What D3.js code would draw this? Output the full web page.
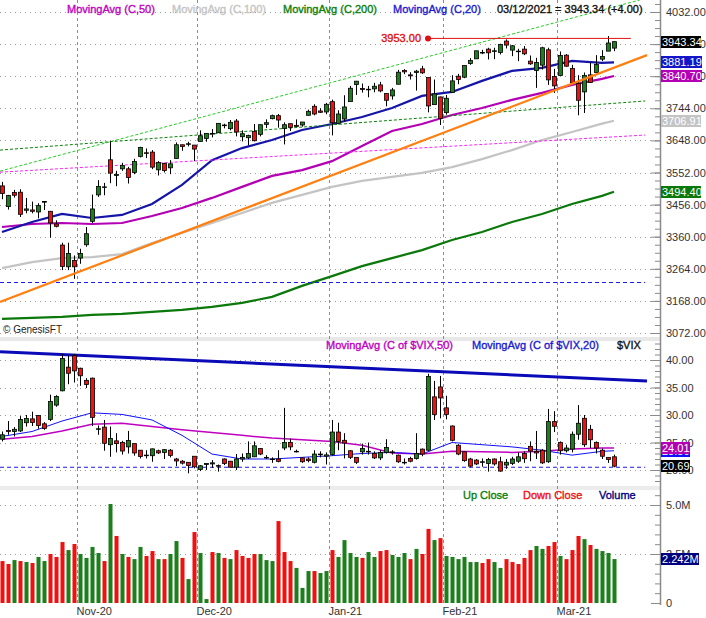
<!DOCTYPE html>
<html>
<head>
<meta charset="utf-8">
<script src="https://cdn.jsdelivr.net/npm/d3@7"></script>
<style>
  body { margin: 0; background: #fff; }
  svg { display: block; }
</style>
</head>
<body>
<div id="chart"></div>
<script>
// trading days shown on the chart (Oct 14 2020 .. Mar 12 2021)
const tradingDays = (
  "2020-10-14 2020-10-15 2020-10-16 2020-10-19 2020-10-20 2020-10-21 2020-10-22 2020-10-23 2020-10-26 2020-10-27 2020-10-28 2020-10-29 2020-10-30 " +
  "2020-11-02 2020-11-03 2020-11-04 2020-11-05 2020-11-06 2020-11-09 2020-11-10 2020-11-11 2020-11-12 2020-11-13 2020-11-16 2020-11-17 2020-11-18 2020-11-19 2020-11-20 2020-11-23 2020-11-24 2020-11-25 2020-11-27 2020-11-30 " +
  "2020-12-01 2020-12-02 2020-12-03 2020-12-04 2020-12-07 2020-12-08 2020-12-09 2020-12-10 2020-12-11 2020-12-14 2020-12-15 2020-12-16 2020-12-17 2020-12-18 2020-12-21 2020-12-22 2020-12-23 2020-12-24 2020-12-28 2020-12-29 2020-12-30 2020-12-31 " +
  "2021-01-04 2021-01-05 2021-01-06 2021-01-07 2021-01-08 2021-01-11 2021-01-12 2021-01-13 2021-01-14 2021-01-15 2021-01-19 2021-01-20 2021-01-21 2021-01-22 2021-01-25 2021-01-26 2021-01-27 2021-01-28 2021-01-29 " +
  "2021-02-01 2021-02-02 2021-02-03 2021-02-04 2021-02-05 2021-02-08 2021-02-09 2021-02-10 2021-02-11 2021-02-12 2021-02-16 2021-02-17 2021-02-18 2021-02-19 2021-02-22 2021-02-23 2021-02-24 2021-02-25 2021-02-26 " +
  "2021-03-01 2021-03-02 2021-03-03 2021-03-04 2021-03-05 2021-03-08 2021-03-09 2021-03-10 2021-03-11 2021-03-12"
).split(" ");

const monthStarts = ["2020-11-02", "2020-12-01", "2021-01-04", "2021-02-01", "2021-03-01"];
const monthLabels = ["Nov-20", "Dec-20", "Jan-21", "Feb-21", "Mar-21"];

// $SPX candles
const spxOpen = [3512,3450,3492,3493,3439,3440,3434,3464,3436,3398,
  3335,3270,3289,3296,3336,3406,3485,3508,3590,3543,
  3563,3563,3552,3600,3611,3613,3560,3579,3566,3594,
  3635,3638,3634,3645,3654,3669,3671,3694,3683,3706,
  3659,3656,3675,3666,3696,3713,3722,3684,3698,3693,
  3694,3723,3750,3736,3733,3764,3699,3712,3764,3815,
  3803,3801,3802,3814,3788,3781,3816,3857,3844,3851,
  3862,3836,3755,3778,3731,3791,3840,3837,3878,3892,
  3910,3921,3916,3911,3945,3918,3915,3921,3885,3857,
  3873,3919,3839,3842,3903,3863,3818,3793,3844,3851,
  3891,3915,3924];
const spxHigh = [3524,3485,3500,3502,3476,3465,3460,3466,3437,3409,
  3342,3342,3304,3324,3389,3486,3529,3521,3645,3557,
  3581,3569,3593,3629,3624,3619,3586,3581,3589,3642,
  3635,3644,3634,3678,3670,3682,3699,3698,3709,3712,
  3678,3665,3697,3695,3711,3725,3727,3702,3698,3711,
  3703,3740,3756,3744,3760,3770,3738,3783,3811,3826,
  3818,3811,3820,3823,3789,3805,3859,3861,3852,3859,
  3871,3836,3830,3779,3784,3843,3847,3872,3894,3915,
  3919,3925,3925,3937,3950,3933,3922,3930,3902,3895,
  3928,3925,3862,3914,3906,3874,3843,3851,3881,3903,
  3918,3960,3944];
const spxLow = [3472,3441,3477,3419,3430,3430,3415,3440,3357,3388,
  3260,3260,3234,3279,3330,3401,3479,3484,3520,3511,
  3557,3519,3547,3597,3595,3562,3543,3552,3547,3594,
  3617,3630,3586,3645,3644,3657,3671,3684,3678,3660,
  3645,3633,3645,3660,3685,3711,3686,3636,3676,3689,
  3689,3723,3723,3730,3726,3663,3696,3705,3764,3784,
  3791,3777,3792,3792,3750,3770,3816,3846,3830,3797,
  3847,3732,3755,3694,3725,3791,3816,3834,3874,3892,
  3906,3890,3891,3905,3923,3900,3885,3903,3874,3805,
  3860,3814,3790,3842,3868,3818,3723,3730,3820,3851,
  3885,3915,3915];
const spxClose = [3489,3483,3484,3427,3443,3436,3453,3465,3401,3391,
  3271,3310,3270,3310,3369,3443,3510,3509,3550,3546,
  3573,3537,3585,3627,3610,3568,3582,3558,3578,3635,
  3630,3638,3622,3662,3669,3667,3699,3692,3702,3673,
  3668,3663,3647,3695,3701,3722,3709,3695,3687,3690,
  3703,3735,3727,3732,3756,3701,3727,3748,3804,3825,
  3800,3801,3810,3796,3768,3799,3852,3853,3841,3855,
  3850,3751,3787,3714,3774,3826,3830,3872,3887,3916,
  3911,3910,3916,3935,3933,3931,3914,3907,3877,3881,
  3925,3829,3811,3902,3870,3820,3768,3842,3821,3875,
  3899,3939.34,3943.34];
const spxPriorClose = 3512; // Oct 13 close, colours the first volume bar

// moving averages every 5 sessions
const maIdx = [0,5,10,15,20,25,30,35,40,45,50,55,60,65,70,75,80,85,90,95,100,102];
const ma20 = [3374,3404,3428,3416,3425,3458,3515,3589,3625,3649,3679,3697,3718,3745,3781,3793,3826,3856,3865,3886,3880,3881.19];
const ma50 = [3389,3398,3401,3398,3401,3422,3446,3476,3509,3542,3559,3586,3631,3676,3697,3724,3745,3769,3790,3814,3832,3840.70];
const ma100 = [3266,3284,3296,3299,3308,3341,3371,3401,3431,3461,3485,3509,3527,3539,3551,3568,3592,3619,3649,3673,3698,3706.91];
const ma200 = [3114,3117,3120,3126,3129,3135,3141,3150,3162,3180,3213,3242,3272,3296,3320,3350,3374,3404,3428,3458,3482,3494.40];

// hand drawn lines: [session index, value] end points
const orangeTrend = [[-0.33, 3165], [107.5, 3903]];
const upperChannel = [[-0.33, 3556], [106.3, 4068]];
const midChannel = [[-0.33, 3619], [107.2, 3766]];
const magentaLine = [[-0.33, 3553], [107.2, 3664]];
const supportLine = [[-0.33, 3223], [107.2, 3223]];
const resistance = [[71, 3953], [104.8, 3953]];
const priceTicks = [3072, 3168, 3264, 3360, 3456, 3552, 3648, 3744, 3840, 3936, 4032];

// $VIX candles
const vixOpen = [25.6,27.2,27.0,27.1,28.6,29.3,29.9,28.4,29.2,31.8,
  34.4,38.7,40.8,38.5,36.3,36.7,27.4,27.8,24.6,25.3,
  25.0,24.2,24.8,23.6,22.6,22.6,23.5,23.2,23.6,22.0,
  21.6,21.4,22.5,20.1,21.0,21.1,20.8,22.0,21.6,20.5,
  22.0,22.2,22.4,23.9,22.3,22.0,22.0,24.0,25.0,23.4,
  22.2,22.0,21.4,22.9,22.5,22.8,26.9,25.4,23.5,22.3,
  23.3,23.4,23.0,22.2,23.2,23.3,22.7,21.4,22.1,22.1,
  23.8,23.6,33.3,35.1,31.3,28.0,24.5,23.3,22.0,21.8,
  21.4,21.2,22.0,21.5,20.9,21.2,21.6,23.0,24.3,23.4,
  23.6,21.5,28.8,25.0,23.5,23.8,26.5,29.4,27.4,25.0,
  23.6,22.3,22.4];
const vixHigh = [27.0,28.9,27.8,29.8,30.0,30.6,30.0,28.7,33.7,33.6,
  41.1,40.8,41.1,38.6,36.7,36.8,28.1,29.1,27.9,26.7,
  25.3,27.1,24.8,23.6,23.6,23.9,23.7,23.8,23.8,22.2,
  21.8,21.4,22.5,20.9,21.2,21.8,21.0,22.1,21.6,22.9,
  23.0,25.2,25.2,24.0,22.7,22.3,23.6,31.3,25.7,23.7,
  22.3,22.3,23.6,23.4,23.2,29.1,28.6,26.7,23.6,22.3,
  24.8,25.0,23.4,23.6,25.6,23.6,22.8,22.1,22.4,26.7,
  23.9,37.5,36.2,37.1,33.5,28.1,24.7,23.4,22.2,22.0,
  22.1,22.2,22.1,22.4,22.0,22.4,23.2,23.4,25.2,27.1,
  23.8,31.1,30.7,25.2,24.6,27.0,31.8,30.0,28.2,25.2,
  23.9,22.3,22.8];
const vixLow = [25.2,26.4,26.1,26.9,27.9,28.0,27.5,27.3,28.9,31.5,
  34.3,35.6,35.9,35.3,34.9,28.0,26.4,23.5,22.4,23.2,
  22.8,23.0,22.6,22.1,22.1,21.5,22.9,22.0,22.3,20.7,
  21.0,19.4,20.3,19.8,20.0,20.4,19.7,20.9,20.5,20.0,
  21.5,22.0,22.4,22.7,22.0,21.3,21.4,23.6,23.6,23.2,
  21.3,21.4,21.2,22.3,21.0,22.6,23.6,22.1,22.0,21.1,
  22.8,22.8,22.0,21.8,23.0,22.8,21.3,21.0,21.4,21.9,
  22.5,23.5,29.1,29.4,29.2,25.2,22.7,21.5,20.5,20.9,
  20.6,19.7,20.8,19.7,20.2,20.9,21.3,21.3,21.6,22.0,
  21.1,21.3,26.9,22.8,23.2,23.2,25.5,24.2,24.0,23.0,
  22.0,21.3,20.5];
const vixClose = [26.4,27.0,27.4,29.2,29.35,28.65,28.1,27.55,32.46,33.35,
  40.28,37.59,38.02,37.13,35.55,29.57,27.5,24.86,25.75,24.8,
  23.45,25.35,23.1,22.45,22.71,23.84,23.11,23.7,22.66,21.64,
  21.25,20.84,20.57,20.77,21.17,21.3,20.79,21.2,20.5,22.0,
  22.3,23.0,24.4,22.9,22.2,21.93,21.57,25.0,24.2,23.31,
  21.5,21.7,22.9,22.77,22.75,26.9,25.2,24.9,22.3,21.4,
  23.9,23.33,22.2,23.2,24.1,23.2,21.5,21.3,21.6,23.0,
  22.9,37.0,30.1,33.1,30.1,25.4,22.9,21.7,20.7,21.1,
  21.5,21.9,21.1,19.8,21.4,22.0,22.4,22.05,23.45,23.1,
  21.3,28.8,27.95,23.5,24.0,26.5,28.5,24.6,25.5,24.0,
  22.5,21.9,20.69];
const vixMa20 = [26.1,27.0,28.9,30.4,30.1,29.1,26.3,22.9,22.0,22.0,22.3,22.6,23.0,23.2,22.9,25.0,24.6,24.2,23.6,22.7,23.4,23.5];
const vixMa50 = [25.6,26.1,27.1,28.3,28.5,27.9,27.3,26.8,26.3,25.8,25.5,25.2,24.5,23.1,22.9,23.4,23.3,23.2,23.4,23.8,24.0,24.01];
const vixTrend = [[-0.33, 41.5], [107.5, 36.2]];
const vixSupport = [[-0.33, 20.5], [107.2, 20.5]];
const vixTicks = [20, 25, 30, 35, 40];

// volume, millions
const volume = [2.14,1.99,2.19,2.14,2.09,2.04,2.35,2.14,2.50,2.35,
  3.11,2.70,3.01,2.50,2.30,2.86,2.55,2.14,5.05,3.42,
  2.50,2.35,2.24,2.86,2.40,2.65,2.24,2.24,2.50,3.16,
  2.30,1.22,3.62,2.55,0.20,2.60,2.55,2.30,2.24,2.70,
  2.40,2.30,2.50,2.50,2.19,2.14,4.18,2.60,2.14,1.79,
  0.77,1.63,1.63,1.53,1.63,2.70,2.35,3.21,2.55,2.35,
  2.30,2.60,2.35,2.65,2.70,2.45,2.35,2.55,2.24,2.76,
  2.50,3.78,3.21,3.31,2.40,2.35,2.24,2.35,2.09,2.09,
  2.04,2.24,2.09,1.79,2.24,2.09,1.99,2.30,2.70,2.91,
  2.76,2.91,3.11,2.40,2.24,2.70,3.42,3.26,2.96,2.76,
  2.65,2.55,2.242];
const volTicks = [0, 2.5, 5];

const upCol = '#1b7f1b';
const downCol = '#f01010';
const font = 'Arial, "Liberation Sans", sans-serif';

function drawChart() {
  const plotRight = 660;
  const svg = d3.select('#chart').append('svg')
    .attr('width', 706).attr('height', 618)
    .style('font-family', font);

  const x = d3.scaleLinear().domain([0, tradingDays.length - 1]).range([2, 614]);
  const yPrice = d3.scaleLinear().domain([3072, 4032]).range([333, 12]);
  const yVix = d3.scaleLinear().domain([20, 40]).range([470, 360]);
  const yVol = d3.scaleLinear().domain([0, 5]).range([603, 505]);

  const panels = [
    { id: 'price', top: 0, bottom: 337 },
    { id: 'vix', top: 341, bottom: 487 },
    { id: 'vol', top: 490, bottom: 604 }
  ];

  const defs = svg.append('defs');
  panels.forEach(p => {
    defs.append('clipPath').attr('id', 'clip-' + p.id)
      .append('rect').attr('x', 0).attr('y', p.top)
      .attr('width', plotRight).attr('height', p.bottom - p.top);
  });

  // grey separators between panels
  svg.append('rect').attr('x', 0).attr('y', 337).attr('width', plotRight).attr('height', 4).attr('fill', '#e8e8e8');
  svg.append('rect').attr('x', 0).attr('y', 486).attr('width', plotRight).attr('height', 4).attr('fill', '#ececec');

  // dotted horizontal grid
  const hGrid = (ticks, yS, x2) => {
    svg.append('g').selectAll('line').data(ticks).join('line')
      .attr('x1', 0).attr('x2', x2)
      .attr('y1', d => Math.round(yS(d)) + 0.5).attr('y2', d => Math.round(yS(d)) + 0.5)
      .attr('stroke', '#9a9a9a').attr('stroke-dasharray', '1,4');
  };
  hGrid(priceTicks, yPrice, plotRight);
  hGrid(vixTicks, yVix, plotRight);
  hGrid([2.5, 5], yVol, plotRight);

  // dashed month lines
  const monthX = monthStarts.map(d => Math.round(x(tradingDays.indexOf(d) - 0.5)) + 0.5);
  svg.append('g').selectAll('line').data(monthX).join('line')
    .attr('x1', d => d).attr('x2', d => d)
    .attr('y1', 0).attr('y2', 606)
    .attr('stroke', '#8c8c8c').attr('stroke-dasharray', '3,3');

  const lineGen = yS => d3.line().x(d => x(d[0])).y(d => yS(d[1]));

  function candles(g, o, h, l, c, yS) {
    const data = tradingDays.map((d, i) => ({ i, o: o[i], h: h[i], l: l[i], c: c[i] }));
    g.selectAll('line.wick').data(data).join('line').attr('class', 'wick')
      .attr('x1', d => Math.round(x(d.i)) + 0.5).attr('x2', d => Math.round(x(d.i)) + 0.5)
      .attr('y1', d => yS(d.h)).attr('y2', d => yS(d.l))
      .attr('stroke', '#000').attr('stroke-width', 1);
    g.selectAll('rect.body').data(data).join('rect').attr('class', 'body')
      .attr('x', d => Math.round(x(d.i)) - 1.5)
      .attr('y', d => yS(Math.max(d.o, d.c)))
      .attr('width', 4)
      .attr('height', d => Math.max(0.6, Math.abs(yS(d.o) - yS(d.c))))
      .attr('fill', d => d.c >= d.o ? upCol : downCol)
      .attr('stroke', '#000').attr('stroke-width', 0.8);
  }

  // ---- price panel
  const gp = svg.append('g').attr('clip-path', 'url(#clip-price)');
  const maLines = [
    { v: ma200, col: '#0a780a' },
    { v: ma100, col: '#c4c4c4' },
    { v: ma50, col: '#b400b4' },
    { v: ma20, col: '#1414a8' }
  ];
  maLines.forEach(m => {
    gp.append('path').datum(d3.zip(maIdx, m.v))
      .attr('d', lineGen(yPrice)).attr('fill', 'none')
      .attr('stroke', m.col).attr('stroke-width', 2.2);
  });
  const dashed = [
    { v: upperChannel, col: '#22cc22', dash: '3,2' },
    { v: midChannel, col: '#0a800a', dash: '3,2' },
    { v: magentaLine, col: '#ff22ff', dash: '3,2' },
    { v: supportLine, col: '#1a1af0', dash: '4,3' }
  ];
  dashed.forEach(m => {
    gp.append('path').datum(m.v).attr('d', lineGen(yPrice)).attr('fill', 'none')
      .attr('stroke', m.col).attr('stroke-width', 1).attr('stroke-dasharray', m.dash);
  });
  candles(gp.append('g'), spxOpen, spxHigh, spxLow, spxClose, yPrice);
  gp.append('path').datum(orangeTrend).attr('d', lineGen(yPrice)).attr('fill', 'none')
    .attr('stroke', '#ff8010').attr('stroke-width', 2.2);
  gp.append('path').datum(resistance).attr('d', lineGen(yPrice)).attr('fill', 'none')
    .attr('stroke', '#e01010').attr('stroke-width', 1);
  gp.append('circle').attr('cx', x(resistance[0][0])).attr('cy', yPrice(resistance[0][1]))
    .attr('r', 3).attr('fill', '#e01010');
  gp.append('text').attr('x', x(resistance[0][0]) - 7).attr('y', yPrice(resistance[0][1]))
    .attr('dy', '0.35em').attr('text-anchor', 'end').attr('font-size', 11)
    .attr('fill', '#e01010').attr('stroke', '#e01010').attr('stroke-width', 0.35)
    .text(d3.format('.2f')(resistance[0][1]));

  svg.append('text').attr('x', 3).attr('y', 333).attr('font-size', 10).attr('fill', '#222')
    .text('\u00a9 GenesisFT');

  // ---- VIX panel
  const gv = svg.append('g').attr('clip-path', 'url(#clip-vix)');
  gv.append('path').datum(vixTrend).attr('d', lineGen(yVix)).attr('fill', 'none')
    .attr('stroke', '#0a0ab8').attr('stroke-width', 3);
  gv.append('path').datum(vixSupport).attr('d', lineGen(yVix)).attr('fill', 'none')
    .attr('stroke', '#1a1af0').attr('stroke-width', 1).attr('stroke-dasharray', '4,3');
  gv.append('path').datum(d3.zip(maIdx, vixMa50)).attr('d', lineGen(yVix)).attr('fill', 'none')
    .attr('stroke', '#c000c0').attr('stroke-width', 1.5);
  gv.append('path').datum(d3.zip(maIdx, vixMa20)).attr('d', lineGen(yVix)).attr('fill', 'none')
    .attr('stroke', '#1010ff').attr('stroke-width', 1);
  candles(gv.append('g'), vixOpen, vixHigh, vixLow, vixClose, yVix);

  // ---- volume panel
  const gvol = svg.append('g').attr('clip-path', 'url(#clip-vol)');
  gvol.selectAll('rect').data(volume).join('rect')
    .attr('x', (d, i) => Math.round(x(i)) - 1.5)
    .attr('y', d => yVol(d))
    .attr('width', 4)
    .attr('height', d => yVol(0) - yVol(d))
    .attr('fill', (d, i) => spxClose[i] >= (i ? spxClose[i - 1] : spxPriorClose) ? upCol : downCol);

  // ---- right axes
  svg.append('line').attr('x1', plotRight + 0.5).attr('x2', plotRight + 0.5)
    .attr('y1', 0).attr('y2', 605).attr('stroke', '#8a8a8a').attr('stroke-width', 1.5);

  function rightAxis(yS, major, minor, fmt, top, bottom) {
    const g = svg.append('g').attr('transform', `translate(${plotRight},0)`);
    g.append('g').call(d3.axisLeft(yS).tickValues(minor.filter(v => yS(v) > top && yS(v) < bottom)).tickSize(5).tickFormat(''))
      .call(a => a.select('.domain').remove());
    g.append('g').call(d3.axisLeft(yS).tickValues(major).tickSize(9).tickFormat(''))
      .call(a => a.select('.domain').remove());
    const lab = g.append('g').call(d3.axisRight(yS).tickValues(major).tickSize(0).tickPadding(6).tickFormat(fmt));
    lab.select('.domain').remove();
    lab.selectAll('text').attr('font-size', 11).attr('font-family', font).attr('fill', '#333');
    g.selectAll('.tick line').attr('stroke', '#8a8a8a');
  }
  rightAxis(yPrice, priceTicks, d3.range(3072 - 24, 4080, 24), d3.format('.2f'), 1, 336);
  rightAxis(yVix, vixTicks, d3.range(16, 44, 1), d3.format('.2f'), 342, 486);
  rightAxis(yVol, volTicks, d3.range(0, 6, 0.5), d => d === 0 ? '0' : d3.format('.1f')(d) + 'M', 491, 604);

  // value boxes on the axis
  function valueBox(y, text, fill, w) {
    svg.append('rect').attr('x', plotRight + 1).attr('y', Math.round(y) - 6)
      .attr('width', w).attr('height', 12).attr('fill', fill);
    svg.append('text').attr('x', plotRight + 2).attr('y', Math.round(y))
      .attr('dy', '0.36em').attr('font-size', 11).attr('fill', '#fff').text(text);
  }
  const last = a => a[a.length - 1];
  const f2 = d3.format('.2f');
  valueBox(yPrice(last(ma200)), f2(last(ma200)), '#0a780a', 40);
  valueBox(yPrice(last(ma100)), f2(last(ma100)), '#c4c4c4', 40);
  valueBox(yPrice(last(ma50)), f2(last(ma50)), '#b400b4', 41);
  valueBox(yPrice(last(ma20)), f2(last(ma20)), '#1414c8', 41);
  valueBox(yPrice(last(spxClose)), f2(last(spxClose)), '#000', 40);
  valueBox(yVix(last(vixMa20)), f2(last(vixMa20)), '#1010ff', 29);
  valueBox(yVix(last(vixMa50)), f2(last(vixMa50)), '#b400b4', 29);
  valueBox(yVix(last(vixClose)), f2(last(vixClose)), '#000', 29);
  valueBox(yVol(last(volume)), d3.format('.3f')(last(volume)) + 'M', '#000080', 38);

  // ---- legends (slightly heavier, like the original rendering)
  const legend = (items, y) => {
    items.forEach(it => {
      svg.append('text').attr('x', it.x).attr('y', y).attr('font-size', 11)
        .attr('fill', it.col).attr('stroke', it.col).attr('stroke-width', 0.35)
        .text(it.t);
    });
  };
  const lastChange = last(spxClose) - spxClose[spxClose.length - 2];
  legend([
    { t: 'MovingAvg (C,50)', x: 67, col: '#c000c0' },
    { t: 'MovingAvg (C,100)', x: 172, col: '#c4c4c4' },
    { t: 'MovingAvg (C,200)', x: 283, col: '#0a800a' },
    { t: 'MovingAvg (C,20)', x: 393, col: '#1a1ad0' },
    { t: '03/12/2021 = ' + f2(last(spxClose)) + ' (+' + f2(lastChange) + ')', x: 497, col: '#111' }
  ], 13);
  legend([
    { t: 'MovingAvg (C of $VIX,50)', x: 326, col: '#c000c0' },
    { t: 'MovingAvg (C of $VIX,20)', x: 472, col: '#1a1ad0' },
    { t: '$VIX', x: 617, col: '#111' }
  ], 349);
  legend([
    { t: 'Up Close', x: 463, col: '#0a800a' },
    { t: 'Down Close', x: 523, col: '#f01010' },
    { t: 'Volume', x: 599, col: '#000080' }
  ], 499);

  // ---- month labels
  svg.append('g').selectAll('text').data(monthLabels).join('text')
    .attr('x', (d, i) => monthX[i] - 1).attr('y', 615)
    .attr('font-size', 11).attr('fill', '#333').text(d => d);
}

window.onload = function () {
  drawChart();
};
</script>
</body>
</html>
